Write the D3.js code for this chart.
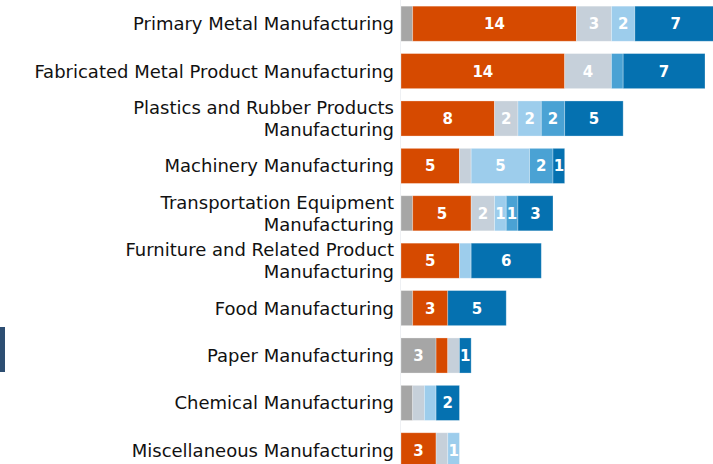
<!DOCTYPE html>
<html>
<head>
<meta charset="utf-8">
<script src="https://cdn.jsdelivr.net/npm/d3@7"></script>
<style>
  body { margin: 0; background: #fff; }
  svg { display: block; }
  .cat { font-family: "DejaVu Sans", sans-serif; font-size: 18px; fill: #111; }
  .val { font-family: "DejaVu Sans", sans-serif; font-size: 15px; font-weight: bold; fill: #fff; }
</style>
</head>
<body>
<div class="chart"></div>
<script>
let categories = [
  "Primary Metal Manufacturing",
  "Fabricated Metal Product Manufacturing",
  "Plastics and Rubber Products|Manufacturing",
  "Machinery Manufacturing",
  "Transportation Equipment|Manufacturing",
  "Furniture and Related Product|Manufacturing",
  "Food Manufacturing",
  "Paper Manufacturing",
  "Chemical Manufacturing",
  "Miscellaneous Manufacturing"
];

let seriesNames = ["grey", "orange", "lightGrey", "lightBlue", "midBlue", "darkBlue"];
let grey      = [1, 0, 0, 0, 1, 0, 1, 3, 1, 0];
let orange    = [14, 14, 8, 5, 5, 5, 3, 1, 0, 3];
let lightGrey = [3, 4, 2, 1, 2, 0, 0, 1, 1, 1];
let lightBlue = [2, 0, 2, 5, 1, 1, 0, 0, 1, 1];
let midBlue   = [0, 1, 2, 2, 1, 0, 0, 0, 0, 0];
let darkBlue  = [7, 7, 5, 1, 3, 6, 5, 1, 2, 0];

// segments that carry no number in the picture: [category index, series]
let hiddenLabels = [
  [0, "grey"], [1, "midBlue"], [3, "lightGrey"], [4, "grey"], [5, "lightBlue"],
  [6, "grey"], [7, "orange"], [7, "lightGrey"], [8, "grey"], [8, "lightGrey"],
  [8, "lightBlue"], [9, "lightGrey"]
];

let colors = {
  grey: "#a6a6a6",
  orange: "#d64a00",
  lightGrey: "#c6d0da",
  lightBlue: "#9dcdec",
  midBlue: "#4aa2d4",
  darkBlue: "#0571b0"
};

let width = 713, height = 464;
let rows = categories.map((c, i) => ({
  cat: c, i: i,
  grey: grey[i], orange: orange[i], lightGrey: lightGrey[i],
  lightBlue: lightBlue[i], midBlue: midBlue[i], darkBlue: darkBlue[i]
}));

const svg = d3.select(".chart")
  .append("svg")
  .attr("width", width)
  .attr("height", height);

let x = d3.scaleLinear().domain([0, 26]).range([401, 705]);
let y = d3.scaleBand()
  .domain(d3.range(categories.length))
  .range([0, 474])
  .paddingInner(0.26)
  .paddingOuter(0.13);

// faint baseline
svg.append("line")
  .attr("x1", x(0) - 0.5).attr("x2", x(0) - 0.5)
  .attr("y1", 0).attr("y2", height)
  .attr("stroke", "#eef0f3");

let stacked = d3.stack().keys(seriesNames)(rows);
let hidden = new Set(hiddenLabels.map(h => h[0] + "|" + h[1]));

let layers = svg.selectAll("g.layer")
  .data(stacked)
  .enter().append("g")
  .attr("class", "layer")
  .attr("fill", d => colors[d.key]);

layers.selectAll("rect")
  .data(d => d.map(p => ({ key: d.key, p: p })).filter(s => s.p[1] > s.p[0]))
  .enter().append("rect")
  .attr("x", s => x(s.p[0]))
  .attr("y", s => y(s.p.data.i))
  .attr("width", s => x(s.p[1]) - x(s.p[0]))
  .attr("height", y.bandwidth())
  .attr("stroke", "rgba(255,255,255,0.35)")
  .attr("stroke-width", 0.8);

layers.selectAll("text")
  .data(d => d.map(p => ({ key: d.key, p: p }))
    .filter(s => s.p[1] > s.p[0] && !hidden.has(s.p.data.i + "|" + s.key)))
  .enter().append("text")
  .attr("class", "val")
  .attr("x", s => (x(s.p[0]) + x(s.p[1])) / 2)
  .attr("y", s => y(s.p.data.i) + y.bandwidth() / 2)
  .attr("text-anchor", "middle")
  .attr("dy", "0.36em")
  .text(s => s.p[1] - s.p[0]);

// category labels
let labels = svg.selectAll("text.cat")
  .data(rows)
  .enter().append("text")
  .attr("class", "cat")
  .attr("text-anchor", "end")
  .attr("transform", d => "translate(394," + (y(d.i) + y.bandwidth() / 2) + ")");

labels.each(function (d) {
  let lines = d.cat.split("|");
  let t = d3.select(this);
  lines.forEach((l, k) => {
    t.append("tspan")
      .attr("x", 0)
      .attr("y", (k - (lines.length - 1) / 2) * 21.5)
      .attr("dy", "0.36em")
      .text(l);
  });
});

// cropped legend swatch at the left edge
svg.append("rect")
  .attr("x", 0).attr("y", 327)
  .attr("width", 5).attr("height", 45)
  .attr("fill", "#2d4e72");
</script>
</body>
</html>
